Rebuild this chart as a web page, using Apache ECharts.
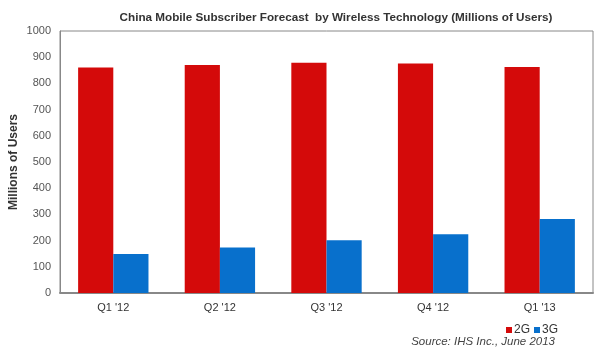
<!DOCTYPE html>
<html lang="en">
<head>
<meta charset="UTF-8">
<title>China Mobile Subscriber Forecast</title>
<script src="https://cdn.jsdelivr.net/npm/echarts@6/dist/echarts.min.js"></script>
<style>
  html, body { margin: 0; padding: 0; background: #fff; }
  #main { width: 600px; height: 353px; }
</style>
</head>
<body>
<div id="main"></div>
<script>
var quarters = ["Q1 '12", "Q2 '12", "Q3 '12", "Q4 '12", "Q1 '13"];
var users2G = [861, 870, 879, 876, 863];
var users3G = [149, 174, 201, 224, 282];

var chart = echarts.init(document.getElementById('main'));
chart.setOption({
    backgroundColor: '#fff',
    animation: false,
    title: {
        text: 'China Mobile Subscriber Forecast  by Wireless Technology (Millions of Users)',
        left: 331, top: 7, textAlign: 'center',
        textStyle: { fontFamily: 'Liberation Sans, Arial', fontSize: 11.7, fontWeight: 'bold', color: '#333' }
    },
    legend: {
        data: ['2G', '3G'],
        left: 501, top: 319,
        itemWidth: 6, itemHeight: 6, itemGap: 4,
        icon: 'rect',
        textStyle: { fontFamily: 'Liberation Sans, Arial', fontSize: 12, color: '#333', padding: [0, 0, 0, -3] }
    },
    graphic: [{
        type: 'text', right: 45, top: 336,
        style: { text: 'Source: IHS Inc., June 2013', fontFamily: 'Liberation Sans, Arial', fontSize: 11.5, fontStyle: 'italic', fill: '#444' }
    }],
    grid: { left: 60, top: 31, right: 7, bottom: 60, show: true, borderColor: '#888', borderWidth: 1, outerBoundsMode: 'none' },
    xAxis: {
        type: 'category',
        data: quarters,
        axisLine: { lineStyle: { color: '#888', width: 2 } },
        axisTick: { show: false },
        axisLabel: { fontFamily: 'Liberation Sans, Arial', fontSize: 11, color: '#333', margin: 9 }
    },
    yAxis: {
        type: 'value',
        min: 0, max: 1000, interval: 100,
        name: 'Millions of Users',
        nameLocation: 'middle',
        nameGap: 40,
        nameMoveOverlap: false,
        nameTextStyle: { fontFamily: 'Liberation Sans, Arial', fontSize: 12, fontWeight: 'bold', color: '#333' },
        axisLine: { show: true, lineStyle: { color: '#888' } },
        axisTick: { show: false },
        splitLine: { show: false },
        axisLabel: {
            fontFamily: 'Liberation Sans, Arial', fontSize: 11, color: '#555', margin: 9,
            formatter: function (v) { return String(v); }
        }
    },
    series: [
        { name: '2G', type: 'bar', data: users2G, barGap: '0%', barCategoryGap: '34%', itemStyle: { color: '#d40a0a' } },
        { name: '3G', type: 'bar', data: users3G, itemStyle: { color: '#0870cc' } }
    ]
});
</script>
</body>
</html>
